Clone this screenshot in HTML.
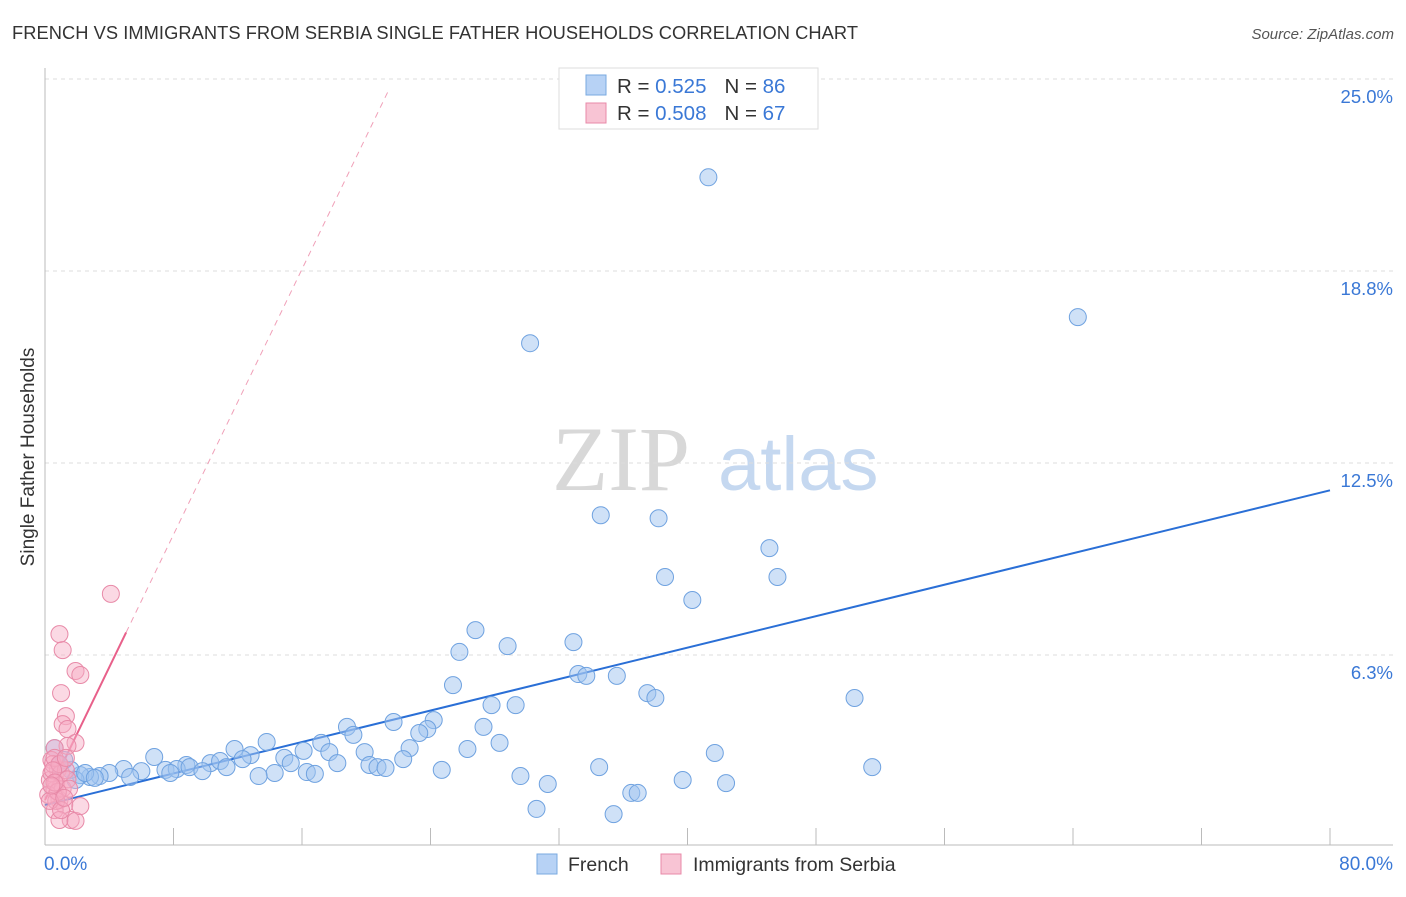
<!DOCTYPE html>
<html><head><meta charset="utf-8"><style>
body{margin:0;background:#fff;font-family:"Liberation Sans",sans-serif}
svg text{font-family:"Liberation Sans",sans-serif}
</style></head><body>
<svg id="c" width="1406" height="892" xmlns="http://www.w3.org/2000/svg">
<text x="12" y="39" font-size="18.3" fill="#333" textLength="846">FRENCH VS IMMIGRANTS FROM SERBIA SINGLE FATHER HOUSEHOLDS CORRELATION CHART</text>
<text x="1394" y="39" font-size="15" fill="#555" font-style="italic" text-anchor="end">Source: ZipAtlas.com</text>
<text x="34" y="457" font-size="19" fill="#333" text-anchor="middle" transform="rotate(-90 34 457)">Single Father Households</text>
<g><text x="552" y="490" font-size="92" fill="#d8d8d8" style="font-family:'Liberation Serif',serif">ZIP</text><text x="718" y="490" font-size="76" fill="#c5d8f0">atlas</text></g>
<g id="grid"></g><g id="axes"></g><g id="lines"></g><g id="pts"></g>
<g>
<rect x="559" y="68" width="259" height="61" fill="#fff" stroke="#ddd"/>
<rect x="586" y="75" width="20" height="20" fill="#b7d2f5" stroke="#7aaae0"/>
<rect x="586" y="103" width="20" height="20" fill="#f8c4d4" stroke="#e88aa8"/>
<text x="617" y="93" font-size="20.5" fill="#333">R = <tspan fill="#3a78d6">0.525</tspan><tspan dx="18">N = </tspan><tspan fill="#3a78d6">86</tspan></text>
<text x="617" y="120" font-size="20.5" fill="#333">R = <tspan fill="#3a78d6">0.508</tspan><tspan dx="18">N = </tspan><tspan fill="#3a78d6">67</tspan></text>
</g>
<g>
<rect x="537" y="854" width="20" height="20" fill="#b7d2f5" stroke="#7aaae0"/>
<text x="568" y="871" font-size="19.5" fill="#333">French</text>
<rect x="661" y="854" width="20" height="20" fill="#f8c4d4" stroke="#e88aa8"/>
<text x="693" y="871" font-size="19.5" fill="#333">Immigrants from Serbia</text>
</g>
</svg>
<script>
const yTicks=[6.25,12.5,18.75,25];
const yTickLabels=["6.3%","12.5%","18.8%","25.0%"];
const xTickVals=[8,16,24,32,40,48,56,64,72,80];
const frenchX=[41.3,64.3,30.2,34.6,38.2,45.1,38.6,45.6,40.3,26.8,32.9,28.8,25.8,33.2,33.7,35.6,25.4,37.5,38.0,50.4,27.8,29.3,24.2,21.7,18.8,23.8,19.2,27.3,23.3,28.3,13.8,17.2,26.3,22.7,41.7,11.8,6.8,16.1,17.7,12.8,19.9,14.9,15.3,18.2,22.3,8.8,10.3,12.3,10.9,11.3,7.5,20.2,20.7,21.2,34.5,51.5,4.9,6.0,8.2,9.0,9.8,7.8,16.3,16.8,24.7,14.3,13.3,29.6,39.7,31.3,42.4,36.5,36.9,30.6,35.4,5.3,4.0,3.4,2.8,2.2,1.6,0.9,0.6,1.2,1.9,2.5,3.1];
const frenchY=[21.8,17.25,16.4,10.8,10.7,9.73,8.79,8.79,8.04,7.06,6.67,6.54,6.35,5.63,5.57,5.57,5.27,5.01,4.85,4.85,4.62,4.62,4.13,4.07,3.91,3.84,3.65,3.91,3.71,3.39,3.42,3.39,3.19,3.22,3.06,3.19,2.93,3.13,3.09,2.99,3.09,2.90,2.73,2.73,2.86,2.67,2.73,2.86,2.80,2.60,2.51,2.67,2.60,2.57,2.60,2.60,2.54,2.47,2.54,2.60,2.47,2.41,2.44,2.38,2.51,2.41,2.31,2.31,2.18,2.05,2.08,1.76,1.76,1.24,1.07,2.28,2.41,2.31,2.28,2.34,2.51,2.67,3.22,2.83,2.18,2.41,2.25];
const serbiaX=[4.1,0.9,1.1,1.9,2.2,1.0,1.3,1.1,1.4,1.9,1.4,0.6,0.4,0.8,0.3,0.6,0.9,1.2,0.6,1.6,0.9,1.9,2.2,0.4,0.5,0.7,1.0,1.3,0.2,1.1,0.6,0.9,0.5,0.7,1.4,1.5,0.8,0.3,1.3,1.0,0.6,0.4,1.2];
const serbiaY=[8.24,6.93,6.41,5.73,5.6,5.01,4.26,4.0,3.84,3.39,3.29,3.22,2.83,2.51,2.18,1.86,1.53,1.37,1.2,0.88,0.88,0.85,1.33,2.4,2.7,2.1,2.4,2.5,1.7,1.9,2.9,2.7,2.5,1.5,2.2,1.9,1.8,1.5,2.9,1.2,2.1,2.0,1.6];
const frenchFit=[1.37,0.128];
const serbiaFit=[1.53,1.08];
const serbiaSolidEnd=5.05, serbiaDashEnd=21.4;
const NS="http://www.w3.org/2000/svg";
const X=v=>45+v/80*1285, Y=v=>847-v*30.72;
function mk(tag,at,parent){const e=document.createElementNS(NS,tag);for(const k in at)e.setAttribute(k,at[k]);document.getElementById(parent).appendChild(e);return e;}
yTicks.forEach((t,i)=>{
 const g=mk('line',{x1:45,x2:1393,y1:Y(t),y2:Y(t),stroke:'#ddd','stroke-dasharray':'4,4'},'grid');
 
 
 const l=mk('text',{x:1393,y:Y(t)+24,'font-size':18.5,fill:'#3a78d6','text-anchor':'end'},'axes');
 l.textContent=yTickLabels[i];
 
 
});
const ya=mk('line',{x1:45,x2:45,y1:68,y2:845,stroke:'#bbb'},'axes');


const xa=mk('line',{x1:45,x2:1393,y1:845,y2:845,stroke:'#bbb'},'axes');


xTickVals.forEach(v=>{
 const t=mk('line',{x1:X(v),x2:X(v),y1:828,y2:845,stroke:'#bbb'},'axes');
 
 
});
const x0=mk('text',{x:44,y:870,'font-size':19,fill:'#3a78d6'},'axes');x0.textContent="0.0%";


const x1=mk('text',{x:1393,y:870,'font-size':19,fill:'#3a78d6','text-anchor':'end'},'axes');x1.textContent="80.0%";


frenchX.forEach((v,i)=>{
 const c=mk('circle',{cx:X(v),cy:Y(frenchY[i]),r:8.5,fill:'rgba(160,196,240,0.5)',stroke:'#6fa2e0','stroke-width':1},'pts');
 
 
});
serbiaX.forEach((v,i)=>{
 const c=mk('circle',{cx:X(v),cy:Y(serbiaY[i]),r:8.5,fill:'rgba(246,170,195,0.45)',stroke:'#e88aa8','stroke-width':1},'pts');
 
 
});
const bl=mk('line',{x1:X(0),y1:Y(frenchFit[0]),x2:X(80),y2:Y(frenchFit[0]+80*frenchFit[1]),stroke:'#2a6fd6','stroke-width':2},'lines');


const pl=mk('line',{x1:X(0),y1:Y(serbiaFit[0]),x2:X(serbiaSolidEnd),y2:Y(serbiaFit[0]+serbiaSolidEnd*serbiaFit[1]),stroke:'#e8608a','stroke-width':2},'lines');


const pd=mk('line',{x1:X(serbiaSolidEnd),y1:Y(serbiaFit[0]+serbiaSolidEnd*serbiaFit[1]),x2:X(serbiaDashEnd),y2:Y(serbiaFit[0]+serbiaDashEnd*serbiaFit[1]),stroke:'#f0a0b8','stroke-width':1,'stroke-dasharray':'6,5'},'lines');


</script>
</body></html>
